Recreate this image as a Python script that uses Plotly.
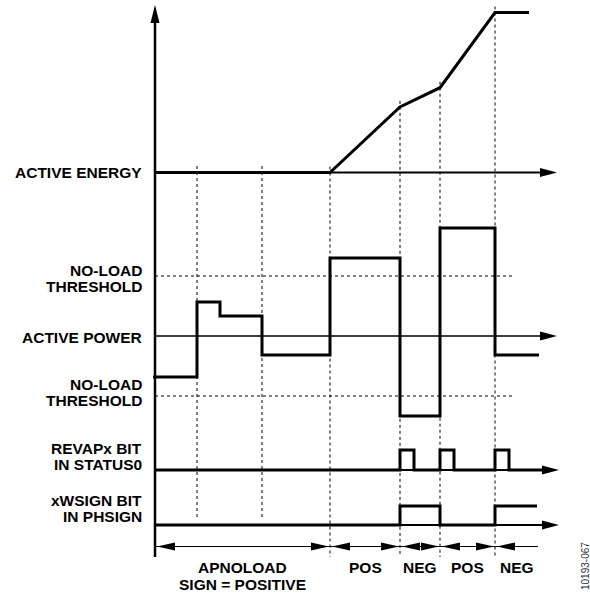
import plotly.graph_objects as go

W, H = 590, 594

# ---- data (time in arbitrary units, levels in arbitrary units) ----
energy_t = [0, 17.5, 24.5, 28.5, 34.0, 37.4]
energy_v = [0, 0, 4.1, 5.3, 10.0, 10.0]

power_t = [-0.2, 4.2, 6.5, 10.7, 17.5, 24.5, 28.5, 34.0, 38.4]
power_v = [-4.1, 3.4, 2.0, -1.9, 7.8, -8.0, 10.8, -1.9, -1.9]
no_load_threshold = 6.0

revap_t = [0, 24.5, 25.9, 28.5, 29.9, 34.0, 35.4, 38.8]
revap_v = [0, 1, 0, 1, 0, 1, 0, 0]

wsign_t = [0, 24.5, 28.5, 34.0, 38.2]
wsign_v = [0, 1, 0, 1, 1]

sign_bounds = [0, 17.5, 24.5, 28.5, 34.0, 38.3]
sign_labels = ["APNOLOAD", "POS", "NEG", "POS", "NEG"]
sign_sublabels = ["SIGN = POSITIVE", "", "", "", ""]

apnoload_marks = [4.2, 10.7]      # power steps inside the no-load window
sign_marks = [17.5, 24.5, 28.5, 34.0]

# ---- layout geometry (pixels) ----
X0, PXT = 155, 10                 # pixel of t=0, pixels per time unit
lanes = {                         # axis: (baseline px, px per unit)
    "y": (172.5, 16),             # active energy
    "y2": (336, 10),              # active power
    "y3": (470, 20),              # REVAPx
    "y4": (525, 19),              # xWSIGN
}
FONT = "Arial, 'Liberation Sans', sans-serif"


def tx(px):
    return (px - X0) / PXT


def pp(py):
    return 1 - py / H


def lane_px(lane, v):
    base, s = lanes[lane]
    return base - v * s


fig = go.Figure()

sig = dict(color="black", width=3)
fig.add_trace(go.Scatter(x=energy_t, y=energy_v, yaxis="y", mode="lines",
                         line=sig))
fig.add_trace(go.Scatter(x=power_t, y=power_v, yaxis="y2", mode="lines",
                         line=dict(sig, shape="hv")))
fig.add_trace(go.Scatter(x=revap_t, y=revap_v, yaxis="y3", mode="lines",
                         line=dict(sig, shape="hv")))
fig.add_trace(go.Scatter(x=wsign_t, y=wsign_v, yaxis="y4", mode="lines",
                         line=dict(sig, shape="hv")))

shapes = []
dot = dict(color="black", width=1, dash="dot")

# no-load threshold lines
for v in (no_load_threshold, -no_load_threshold):
    shapes.append(dict(type="line", xref="x", yref="y2", x0=0, x1=tx(512),
                       y0=v, y1=v, line=dot, layer="below"))

# vertical dotted markers
for t in apnoload_marks:
    shapes.append(dict(type="line", xref="x", yref="paper", x0=t, x1=t,
                       y0=pp(166), y1=pp(520), line=dot, layer="below"))
for t in sign_marks:
    e = max(v for tt, v in zip(energy_t, energy_v) if tt <= t)
    shapes.append(dict(type="line", xref="x", yref="paper", x0=t, x1=t,
                       y0=pp(lane_px("y", e) - 6), y1=pp(557), line=dot,
                       layer="below"))

# axes
shapes.append(dict(type="line", xref="x", yref="paper", x0=0, x1=0,
                   y0=pp(20), y1=pp(557), line=dict(color="black", width=2.5)))
axis_w = {"y": 2, "y2": 1.5, "y3": 2, "y4": 2}
axis_end = {"y": 557, "y2": 557, "y3": 559, "y4": 559}
AL, AH = 17, 4.5


def head_h(tip_px, py, direction, length=AL, half=AH):
    bx = tip_px - direction * length
    return dict(type="path", xref="x", yref="paper", fillcolor="black",
                line=dict(width=0),
                path=f"M{tx(tip_px)},{pp(py)} L{tx(bx)},{pp(py - half)} "
                     f"L{tx(bx)},{pp(py + half)} Z")


for lane, w in axis_w.items():
    base = lanes[lane][0]
    shapes.append(dict(type="line", xref="x", yref=lane, x0=0,
                       x1=tx(axis_end[lane] - 5), y0=0, y1=0,
                       line=dict(color="black", width=w)))
    shapes.append(head_h(axis_end[lane], base, 1))

# vertical axis arrow head
shapes.append(dict(type="path", xref="x", yref="paper", fillcolor="black",
                   line=dict(width=0),
                   path=f"M0,{pp(5)} L{tx(X0 - 4.5)},{pp(23)} "
                        f"L{tx(X0 + 4.5)},{pp(23)} Z"))

# sign intervals row
ROW = 546.5
shapes.append(dict(type="line", xref="x", yref="paper", x0=0,
                   x1=sign_bounds[-1], y0=pp(ROW), y1=pp(ROW),
                   line=dict(color="black", width=1.2)))
for i in range(len(sign_labels)):
    a, b = sign_bounds[i], sign_bounds[i + 1]
    shapes.append(head_h(X0 + a * PXT + 2, ROW, -1, 18, 4))
    if i < len(sign_labels) - 1:
        shapes.append(head_h(X0 + b * PXT - 1, ROW, 1, 18, 4))

annotations = []


def label(text, px, py, anchor="right", size=15.5, **kw):
    annotations.append(dict(text=text, x=tx(px), y=pp(py), xref="x",
                            yref="paper", xanchor=anchor, yanchor="middle",
                            showarrow=False,
                            font=dict(family=FONT, size=size, color="black"),
                            **kw))


lane_labels = [
    ("<b>ACTIVE ENERGY</b>", 172.5),
    ("<b>NO-LOAD</b>", 270.5), ("<b>THRESHOLD</b>", 286.5),
    ("<b>ACTIVE POWER</b>", 337.5),
    ("<b>NO-LOAD</b>", 384.5), ("<b>THRESHOLD</b>", 400.5),
    ("<b>REVAPx BIT</b>", 448.5), ("<b>IN STATUS0</b>", 464.5),
    ("<b>xWSIGN BIT</b>", 500.5), ("<b>IN PHSIGN</b>", 516.5),
]
for text, py in lane_labels:
    label(text, 144, py)

for i, (lab, sub) in enumerate(zip(sign_labels, sign_sublabels)):
    mid = (sign_bounds[i] + sign_bounds[i + 1]) / 2
    label(f"<b>{lab}</b>", X0 + mid * PXT, 567.5, anchor="center")
    if sub:
        label(f"<b>{sub}</b>", X0 + mid * PXT, 584.5, anchor="center")

annotations.append(dict(text="10193-067", x=tx(585), y=pp(566), xref="x",
                        yref="paper", textangle=-90, showarrow=False,
                        xanchor="center", yanchor="middle",
                        font=dict(family=FONT, size=10, color="#333333")))

yaxes = {}
for i, (lane, (base, s)) in enumerate(lanes.items()):
    key = "yaxis" if lane == "y" else "yaxis" + lane[1:]
    ax = dict(range=[(base - H) / s, base / s], visible=False,
              domain=[0, 1], fixedrange=True)
    if lane != "y":
        ax["overlaying"] = "y"
    yaxes[key] = ax

fig.update_layout(
    width=W, height=H,
    margin=dict(l=0, r=0, t=0, b=0),
    paper_bgcolor="white", plot_bgcolor="white",
    showlegend=False,
    xaxis=dict(range=[tx(0), tx(W)], visible=False, fixedrange=True),
    shapes=shapes,
    annotations=annotations,
    **yaxes,
)

fig.write_html("out.html", config={"displayModeBar": False},
               post_script="document.body.style.margin='0';")
